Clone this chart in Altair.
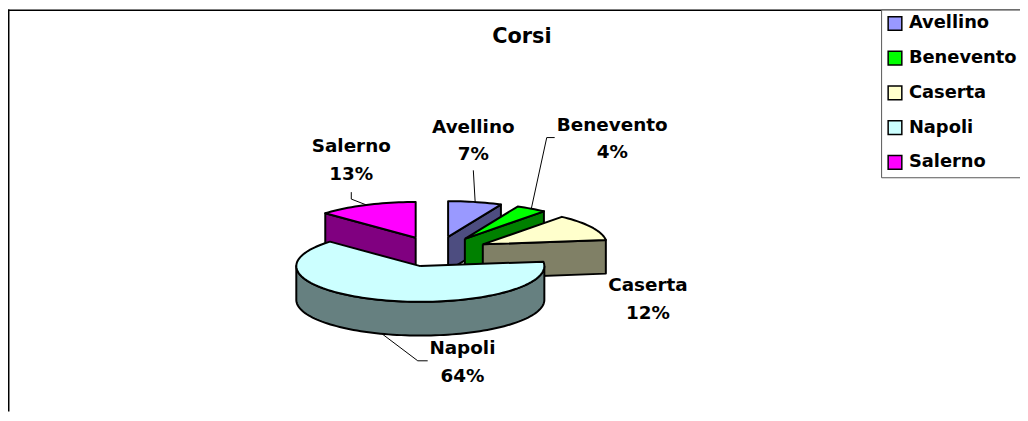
import altair as alt
import numpy as np
import pandas as pd

# ---------------- data ----------------
CATEGORIES = ["Avellino", "Benevento", "Caserta", "Napoli", "Salerno"]
PERCENT = [7, 4, 12, 64, 13]
TOP_COLORS = ["#9999FF", "#00FF00", "#FFFFCC", "#CCFFFF", "#FF00FF"]
SIDE_COLORS = ["#4D4D80", "#008000", "#808066", "#668080", "#800080"]
TITLE = "Corsi"

# ---------------- layout / style ----------------
W, H = 1020, 405
CX_PX, CY_PX = 432, 244        # pie centre inside plot (px)
PX = 125                       # px per unit radius
TILT = 0.288                   # vertical squash of the 3-D ellipse
DEPTH = 0.272                  # thickness of the pie
EXPLODE = 0.425                # explosion distance of every slice
FONT = "DejaVu Sans"

# label anchors (first-line baseline, unit coords) and leader-line starts
LABEL_POS = [(0.296, 0.96), (1.416, 0.976), (1.704, -0.32), (0.208, -0.824), (-0.688, 0.80)]
LEADER_START = [
    [(0.296, 0.656)],
    [(0.952, 0.92), (0.888, 0.92)],
    [],
    [(-0.072, -0.88), (-0.152, -0.88)],
    [(-0.688, 0.48), (-0.688, 0.424)],
]

xscale = alt.Scale(domain=[-CX_PX / PX, (W - CX_PX) / PX], nice=False, zero=False)
yscale = alt.Scale(domain=[-(H - CY_PX) / PX, CY_PX / PX], nice=False, zero=False)

# ---------------- geometry from the values ----------------
total = float(sum(PERCENT))
bounds = np.concatenate([[0.0], np.cumsum(PERCENT)]) / total * 2 * np.pi


def rim(cx, cy, th, h=0.0):
    return cx + np.sin(th), cy + np.cos(th) * TILT - h


def arc(cx, cy, t0, t1, h=0.0):
    n = max(3, int(np.degrees(t1 - t0) / 2) + 2)
    ts = np.linspace(t0, t1, n)
    return [rim(cx, cy, t, h) for t in ts]


slices = []
for k, cat in enumerate(CATEGORIES):
    t0, t1 = bounds[k], bounds[k + 1]
    mid = (t0 + t1) / 2
    cx = EXPLODE * np.sin(mid)
    cy = EXPLODE * np.cos(mid) * TILT
    slices.append(dict(k=k, cat=cat, t0=t0, t1=t1, mid=mid, cx=cx, cy=cy))

order = sorted(range(len(slices)), key=lambda k: -slices[k]["cy"])

side_rows, top_rows = [], []
for rank, k in enumerate(order):
    s = slices[k]
    cx, cy, t0, t1 = s["cx"], s["cy"], s["t0"], s["t1"]
    faces = []
    # visible radial cut faces
    if np.sin(t0) < -1e-9:
        a, b = rim(cx, cy, t0), rim(cx, cy, t0, DEPTH)
        faces.append([(cx, cy), a, b, (cx, cy - DEPTH)])
    if np.sin(t1) > 1e-9:
        a, b = rim(cx, cy, t1), rim(cx, cy, t1, DEPTH)
        faces.append([(cx, cy), a, b, (cx, cy - DEPTH)])
    # visible outer curved wall (front half)
    lo, hi = max(t0, np.pi / 2), min(t1, 3 * np.pi / 2)
    if hi > lo:
        faces.append(arc(cx, cy, lo, hi) + arc(cx, cy, lo, hi, DEPTH)[::-1])
    for j, poly in enumerate(faces):
        poly = poly + [poly[0]]
        for i, (x, y) in enumerate(poly):
            side_rows.append(dict(poly=f"s{rank:02d}{j}", i=i, x=x, y=y, col=SIDE_COLORS[k]))
    top = [(cx, cy)] + arc(cx, cy, t0, t1) + [(cx, cy)]
    for i, (x, y) in enumerate(top):
        top_rows.append(dict(poly=f"t{rank:02d}", i=i, x=x, y=y, cat=s["cat"]))

side_df = pd.DataFrame(side_rows)
top_df = pd.DataFrame(top_rows)

label_rows, leader_rows = [], []
for k, s in enumerate(slices):
    lx, ly = LABEL_POS[k]
    label_rows.append(dict(x=lx, y=ly, text=f"{s['cat']}\n{PERCENT[k]}%"))
    if LEADER_START[k]:
        front = np.cos(s["mid"]) < 0
        end = rim(s["cx"], s["cy"], s["mid"], DEPTH if front else 0.0)
        pts = LEADER_START[k] + [end]
        for i, (x, y) in enumerate(pts):
            leader_rows.append(dict(poly=f"l{k}", i=i, x=x, y=y))
label_df = pd.DataFrame(label_rows)
leader_df = pd.DataFrame(leader_rows)

X = alt.X("x:Q", scale=xscale, axis=None)
Y = alt.Y("y:Q", scale=yscale, axis=None)

sides = alt.Chart(side_df).mark_line(
    stroke="black", strokeWidth=2, strokeJoin="round"
).encode(x=X, y=Y, detail="poly:N", order="i:Q", fill=alt.Fill("col:N", scale=None))

tops = alt.Chart(top_df).mark_line(
    stroke="black", strokeWidth=2, strokeJoin="round"
).encode(
    x=X, y=Y, detail="poly:N", order="i:Q",
    fill=alt.Fill(
        "cat:N",
        scale=alt.Scale(domain=CATEGORIES, range=TOP_COLORS),
        legend=alt.Legend(
            title=None, orient="none", legendX=880, legendY=0,
            symbolType="square", symbolSize=190, symbolStrokeColor="black",
            symbolStrokeWidth=1.5, labelFont=FONT, labelFontSize=18,
            labelFontWeight="bold", labelColor="black", labelOffset=5,
            rowPadding=15, padding=5, strokeColor="#555555", fillColor="white",
        ),
    ),
)

leaders = alt.Chart(leader_df).mark_line(stroke="black", strokeWidth=1).encode(
    x=X, y=Y, detail="poly:N", order="i:Q"
)

labels = alt.Chart(label_df).mark_text(
    font=FONT, fontSize=18.5, fontWeight="bold", color="black",
    align="center", baseline="alphabetic", lineBreak="\n", lineHeight=28,
).encode(x=X, y=Y, text="text:N")

title = alt.Chart(pd.DataFrame({"t": [TITLE]})).mark_text(
    font=FONT, fontSize=21, fontWeight="bold", color="black",
    align="center", baseline="alphabetic",
).encode(x=alt.value(518), y=alt.value(34), text="t:N")

border_left = alt.Chart(pd.DataFrame({"a": [0]})).mark_rule(color="black", strokeWidth=1.5).encode(
    x=alt.value(0.75), y=alt.value(0), y2=alt.value(H)
)
border_top = alt.Chart(pd.DataFrame({"a": [0]})).mark_rule(color="black", strokeWidth=1.5).encode(
    x=alt.value(0), x2=alt.value(W), y=alt.value(0.75)
)

chart = alt.layer(
    border_left, border_top, sides, tops, leaders, labels, title
).properties(
    width=W, height=H, padding=0,
    autosize=alt.AutoSizeParams(type="none"),
    background="white",
).configure_view(stroke=None)

chart.save("out.html", embed_options={"renderer": "svg", "actions": False})
